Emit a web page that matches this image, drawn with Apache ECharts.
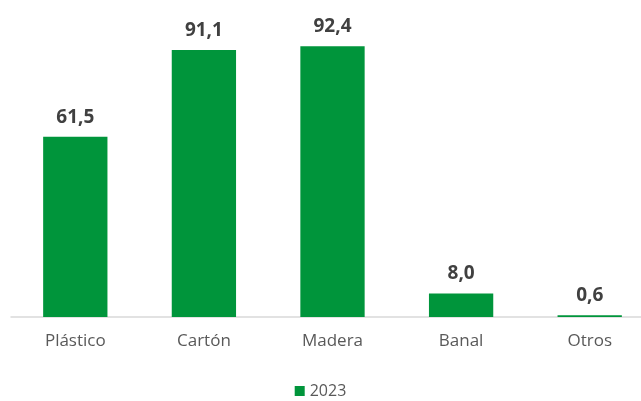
<!DOCTYPE html>
<html><head><meta charset="utf-8">
<script src="https://cdn.jsdelivr.net/npm/echarts@6/dist/echarts.min.js"></script>
<style>html,body{margin:0;padding:0;background:#fff}#c{width:641px;height:401px}</style>
</head><body><div id="c"></div>
<script>
var categories = ['Plástico', 'Cartón', 'Madera', 'Banal', 'Otros'];
var values2023 = [61.5, 91.1, 92.4, 8.0, 0.6];
var seriesName = '2023';

var chart = echarts.init(document.getElementById('c'), null, {renderer: 'canvas'});
chart.setOption({
  animation: false,
  textStyle: {fontFamily: 'Open Sans'},
  grid: {left: 11, right: -13, top: 24, bottom: 84, containLabel: false, outerBoundsMode: 'none'},
  xAxis: {
    type: 'category', data: categories,
    axisLine: {lineStyle: {color: '#d9d9d9', width: 1.5}},
    axisTick: {show: false},
    axisLabel: {color: '#595959', fontSize: 17, margin: 16, fontFamily: 'Open Sans'}
  },
  yAxis: {type: 'value', min: 0, max: 100, show: false, splitLine: {show: false}},
  legend: {
    top: 383, left: 'center', itemWidth: 10, itemHeight: 10, itemGap: 5,
    icon: 'rect', padding: 0,
    textStyle: {color: '#595959', fontSize: 16, fontFamily: 'Open Sans'},
    data: [seriesName]
  },
  series: [{
    name: seriesName, type: 'bar', data: values2023, barWidth: '50%',
    itemStyle: {color: '#00953b'},
    label: {
      show: true, position: 'top', distance: 10,
      color: '#404040', fontSize: 19, fontWeight: 'bold', fontFamily: 'Open Sans',
      formatter: function (p) { return p.value.toFixed(1).replace('.', ','); }
    }
  }]
});
</script></body></html>
